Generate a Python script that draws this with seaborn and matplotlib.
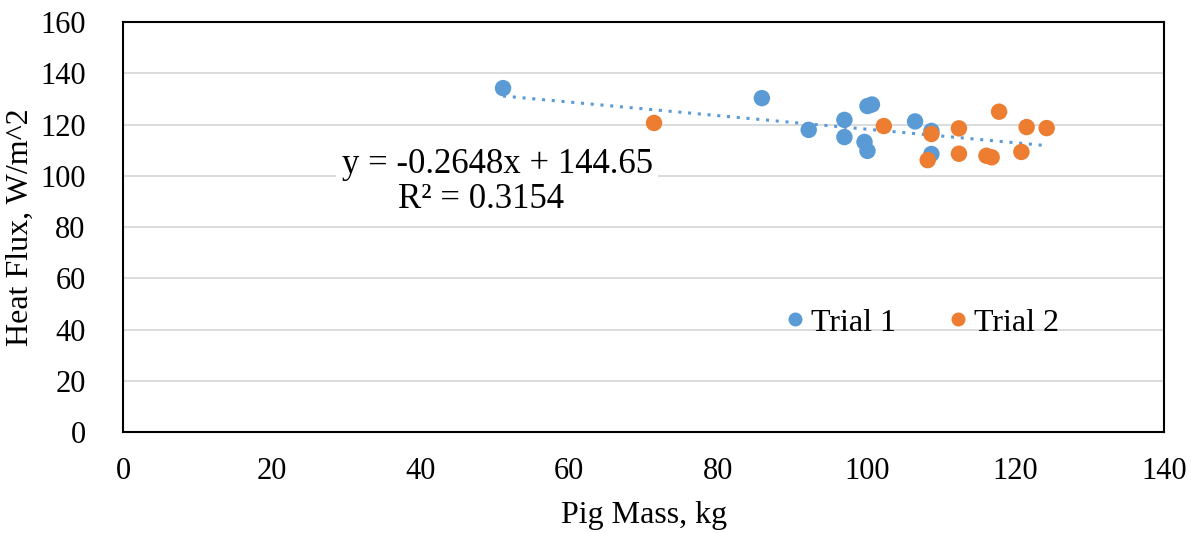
import pandas as pd
import numpy as np
import matplotlib.pyplot as plt
import seaborn as sns

# 数据
trial1_mass = [51.1, 85.9, 92.2, 97.0, 97.0, 99.7, 100.1, 100.1, 100.7, 106.5, 108.7, 108.7]
trial1_flux = [134.2, 130.3, 117.9, 121.8, 115.1, 113.2, 109.7, 127.2, 127.8, 121.2, 117.5, 108.5]
trial2_mass = [71.4, 102.3, 108.7, 108.2, 112.4, 112.4, 117.8, 116.1, 116.8, 120.8, 121.5, 124.2]
trial2_flux = [120.6, 119.4, 116.3, 106.1, 118.5, 108.6, 125.0, 107.8, 107.2, 109.3, 119.0, 118.6]
trend_slope = -0.2648
trend_intercept = 144.65
trend_r2 = 0.3154

df = pd.DataFrame({
    'mass': trial1_mass + trial2_mass,
    'flux': trial1_flux + trial2_flux,
    'trial': ['Trial 1'] * len(trial1_mass) + ['Trial 2'] * len(trial2_mass),
})

sns.set_theme(style='white')
plt.rcParams['font.family'] = ['Liberation Serif', 'DejaVu Serif']
plt.rcParams['text.color'] = 'black'
plt.rcParams['axes.labelcolor'] = 'black'
plt.rcParams['xtick.color'] = 'black'
plt.rcParams['ytick.color'] = 'black'

fig = plt.figure(figsize=(11.91, 5.33), dpi=100)
ax = fig.add_axes([0.1033, 0.1895, 0.8742, 0.7692])

ax.grid(axis='y', color='#d9d9d9', linewidth=1.3, zorder=0)
ax.set_axisbelow(True)

# 趋势线
xs = np.array([df['mass'].min(), df['mass'].max()])
ax.plot(xs, trend_slope * xs + trend_intercept, linestyle=(0, (1, 2.2)),
        color='#5B9BD5', linewidth=2.2, zorder=2)

sns.scatterplot(data=df, x='mass', y='flux', hue='trial', ax=ax,
                palette={'Trial 1': '#5B9BD5', 'Trial 2': '#ED7D31'},
                s=140, linewidth=0, zorder=3)

# 趋势线方程
ax.text(50.3, 104.2, f'y = {trend_slope}x + {trend_intercept}',
        ha='center', va='center', fontsize=25,
        bbox=dict(facecolor='white', edgecolor='none', pad=4), zorder=4)
ax.text(48.1, 90.9, f'R² = {trend_r2}',
        ha='center', va='center', fontsize=25, zorder=4)

ax.set_xlim(0, 140)
ax.set_ylim(0, 160)
ax.set_xticks(range(0, 141, 20))
ax.set_yticks(range(0, 161, 20))
ax.tick_params(axis='x', labelsize=22, length=0, pad=18)
ax.tick_params(axis='y', labelsize=22, length=0, pad=27)
ax.set_xlabel('Pig Mass, kg', fontsize=23, labelpad=11)
ax.set_ylabel('Heat Flux, W/m^2', fontsize=23, labelpad=4)

for sp in ax.spines.values():
    sp.set_visible(True)
    sp.set_color('black')
    sp.set_linewidth(1.5)

handles, labels = ax.get_legend_handles_labels()
ax.legend(handles, labels, loc='center', bbox_to_anchor=(0.768, 0.266),
          ncol=2, frameon=False, fontsize=23, markerscale=0.85,
          handlelength=0.5, handletextpad=0.25, columnspacing=1.7)

fig.savefig('out.png', dpi=100)
